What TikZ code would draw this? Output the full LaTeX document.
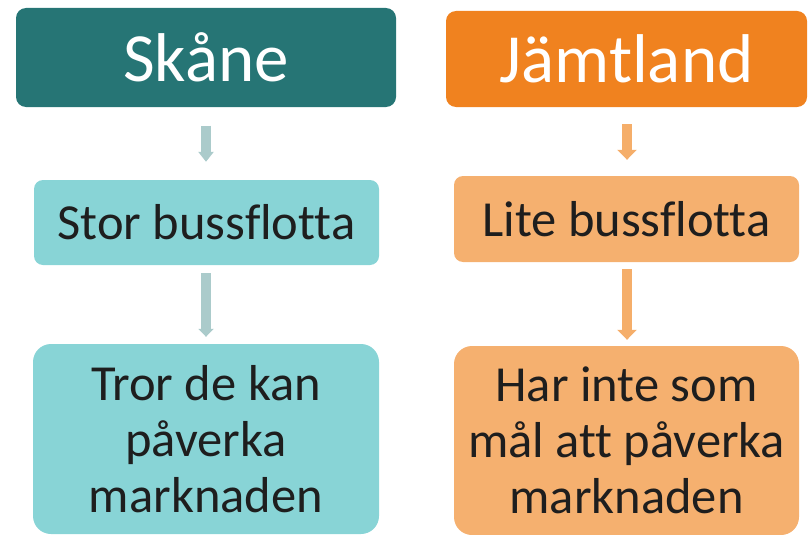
\documentclass[tikz,border=0pt]{standalone}
\usepackage{fontspec}
\setmainfont[Ligatures=NoCommon]{Carlito}
\usetikzlibrary{arrows.meta}
\definecolor{headteal}{HTML}{267575}
\definecolor{headorange}{HTML}{F0821F}
\definecolor{lteal}{HTML}{88D4D6}
\definecolor{lorange}{HTML}{F5B06F}
\definecolor{arrteal}{HTML}{ABCBCB}
\definecolor{arrorange}{HTML}{F5AE6A}
\definecolor{txt}{HTML}{1E1E1E}
\tikzset{
  header/.style={rectangle, rounded corners=10pt, inner sep=0pt, text=white,
    font=\fontsize{69}{84}\selectfont},
  midbox/.style={rectangle, rounded corners=9pt, inner sep=0pt, text=txt,
    font=\fontsize{50.5}{56}\selectfont},
  lowbox/.style={rectangle, rounded corners=18pt, inner sep=0pt, text=txt, align=center,
    font=\fontsize{50.5}{56}\selectfont},
  flowarrow/.style={line width=10.5pt},
}
\begin{document}
\begin{tikzpicture}[x=1pt,y=-1pt]
\useasboundingbox (0,0) rectangle (808,535);
% left column
\node[header, fill=headteal, minimum width=380pt, minimum height=99pt] (sk) at (206,57.5) {Skåne};
\node[midbox, fill=lteal, minimum width=345pt, minimum height=85pt] (stor) at (206.5,222.5) {Stor bussflotta};
\node[lowbox, fill=lteal, minimum width=346pt, minimum height=190pt] (tror) at (206,439) {Tror de kan\\påverka\\marknaden};
% right column
\node[header, fill=headorange, minimum width=361pt, minimum height=96pt] (jl) at (626.5,59) {Jämtland};
\node[midbox, fill=lorange, minimum width=345pt, minimum height=86pt] (lite) at (626.5,219) {Lite bussflotta};
\node[lowbox, fill=lorange, minimum width=345pt, minimum height=189pt] (har) at (626.5,440.5) {Har inte som\\mål att påverka\\marknaden};
% arrows
\draw[flowarrow, arrteal, -{Triangle[width=15pt,length=10pt]}, shorten <=18.5pt, shorten >=18pt] (sk.south -| 206,0) -- (stor.north -| 206,0);
\draw[flowarrow, arrteal, -{Triangle[width=15pt,length=8pt]}, shorten <=8pt, shorten >=7pt] (stor.south -| 206,0) -- (tror.north -| 206,0);
\draw[flowarrow, arrorange, -{Triangle[width=19pt,length=10pt]}, shorten <=17pt, shorten >=16pt] (jl.south -| 627,0) -- (lite.north -| 627,0);
\draw[flowarrow, arrorange, -{Triangle[width=19pt,length=10pt]}, shorten <=7pt, shorten >=6pt] (lite.south -| 627,0) -- (har.north -| 627,0);
\end{tikzpicture}
\end{document}
